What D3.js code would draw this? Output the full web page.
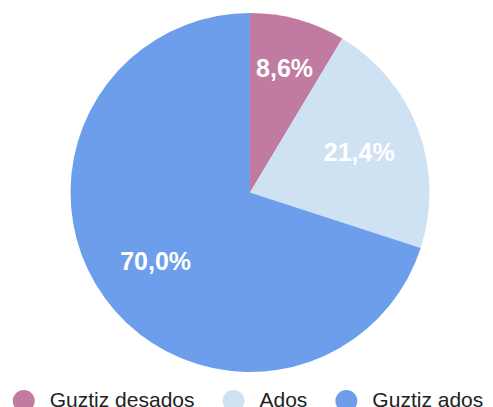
<!DOCTYPE html>
<html>
<head>
<meta charset="utf-8">
<script src="https://cdn.jsdelivr.net/npm/d3@7"></script>
<style>
  html, body { margin: 0; padding: 0; background: #fff; }
  svg { display: block; }
</style>
</head>
<body>
<svg id="chart" width="493" height="407"></svg>
<script>
const categories = ["Guztiz desados", "Ados", "Guztiz ados"];
const values = [8.6, 21.4, 70.0];
const labels = ["8,6%", "21,4%", "70,0%"];
const colors = ["#c27ba0", "#cfe2f3", "#6d9eeb"];

const W = 493, H = 407;
const cx = 250, cy = 192.5, R = 179.5;
const svg = d3.select("#chart");

const pie = d3.pie().sort(null).value(d => d)(values);
const arc = d3.arc().innerRadius(0).outerRadius(R);

const g = svg.append("g").attr("transform", `translate(${cx},${cy})`);
g.selectAll("path.slice").data(pie).join("path")
  .attr("class", "slice")
  .attr("d", arc)
  .attr("fill", (d, i) => colors[i]);

// labels: start at 0.65R along the mid angle and push outward until the text box fits the wedge
const pad = 5.5, capH = 18;
function distToRay(px, py, a) {
  // signed distance of point from line through origin at angle a (clockwise from top)
  const dx = Math.sin(a), dy = -Math.cos(a);
  return px * dy - py * dx;
}
const lbl = g.selectAll("text.lbl").data(pie).join("text")
  .attr("class", "lbl")
  .attr("text-anchor", "middle")
  .attr("font-family", "Liberation Sans, Arial, sans-serif")
  .attr("font-weight", "bold")
  .attr("font-size", 25)
  .attr("fill", "#ffffff")
  .text((d, i) => labels[i]);

lbl.each(function(d) {
  const w = this.getComputedTextLength();
  const mid = (d.startAngle + d.endAngle) / 2;
  let r = 0.65 * R;
  for (let k = 0; k < 200; k++) {
    const x = r * Math.sin(mid), y = -r * Math.cos(mid);
    const corners = [[x - w/2, y - capH/2], [x + w/2, y - capH/2], [x - w/2, y + capH/2], [x + w/2, y + capH/2]];
    let ok = true;
    if (d.endAngle - d.startAngle < Math.PI) {
      for (const [px, py] of corners) {
        // inside wedge: clockwise from start ray, counter-clockwise from end ray
        const s = -distToRay(px, py, d.startAngle);
        const e = distToRay(px, py, d.endAngle);
        if (s < pad || e < pad) { ok = false; break; }
      }
    }
    if (ok) break;
    r += 0.5;
  }
  const x = r * Math.sin(mid), y = -r * Math.cos(mid);
  d3.select(this).attr("x", x).attr("y", y + capH / 2);
});

// legend
const legFont = 21, cr = 11, textOff = 26, gap = 28;
const leg = svg.append("g");
const items = leg.selectAll("g.item").data(categories).join("g").attr("class", "item");
items.append("circle").attr("r", cr).attr("cy", 0).attr("fill", (d, i) => colors[i]);
items.append("text")
  .attr("x", textOff)
  .attr("y", 6)
  .attr("font-family", "Liberation Sans, Arial, sans-serif")
  .attr("font-size", legFont)
  .attr("fill", "#222222")
  .text(d => d);
let xpos = 0;
const widths = [];
items.each(function(d, i) {
  const tw = d3.select(this).select("text").node().getComputedTextLength();
  const itemW = cr + textOff + tw;
  d3.select(this).attr("transform", `translate(${xpos + cr},0)`);
  widths.push(itemW);
  xpos += itemW + gap;
});
const total = xpos - gap;
leg.attr("transform", `translate(${248 - total / 2},401)`);
</script>
</body>
</html>
